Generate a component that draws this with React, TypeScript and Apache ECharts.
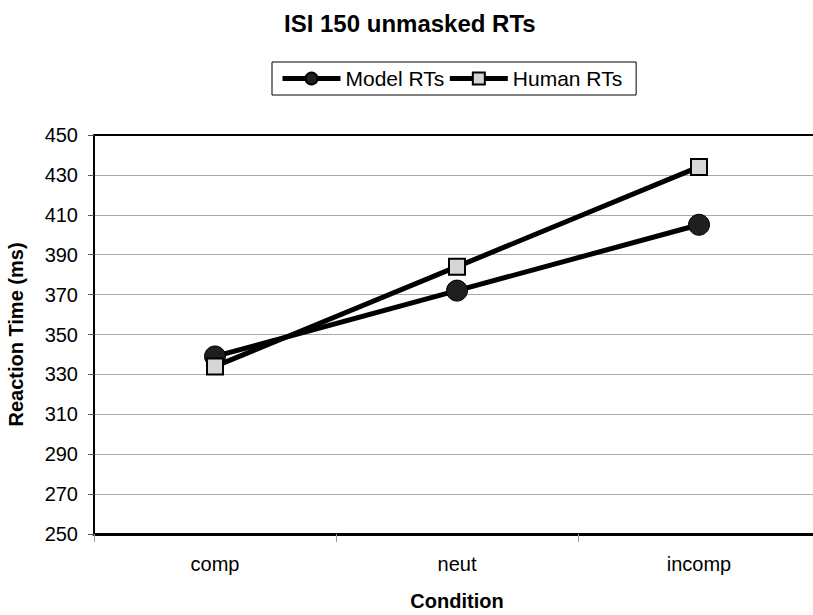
import React, { useEffect, useRef } from "react";
import * as echarts from "echarts";

const categories = ["comp", "neut", "incomp"];
const modelRTs = [339, 372, 405];
const humanRTs = [334, 384, 434];
const yMin = 250;
const yMax = 450;
const yStep = 20;

const FONT = "Liberation Sans, Arial, sans-serif";

export default function App() {
  const ref = useRef<HTMLDivElement>(null);
  useEffect(() => {
    document.body.style.margin = "0";
    const chart = echarts.init(ref.current!, null, { renderer: "svg" });
    chart.setOption({
      animation: false,
      backgroundColor: "#ffffff",
      textStyle: { fontFamily: FONT },
      title: {
        text: "ISI 150 unmasked RTs",
        left: 279,
        top: 6,
        textStyle: { fontFamily: FONT, fontSize: 24, fontWeight: "bold", color: "#000" },
      },
      legend: {
        left: 272,
        top: 62,
        orient: "horizontal",
        borderColor: "#000",
        borderWidth: 1,
        padding: [6, 14, 6, 8],
        itemGap: 3,
        itemWidth: 58,
        itemHeight: 15,
        lineStyle: { width: 5, color: "#000" },
        textStyle: { fontFamily: FONT, fontSize: 21, color: "#000" },
        data: ["Model RTs", "Human RTs"],
      },
      grid: {
        left: 94,
        top: 135,
        width: 726,
        height: 399,
        containLabel: false,
        outerBoundsMode: "none",
      },
      xAxis: [
        {
          type: "category",
          data: categories,
          boundaryGap: true,
          name: "Condition",
          nameLocation: "middle",
          nameGap: 57,
          nameTextStyle: { fontFamily: FONT, fontSize: 20, fontWeight: "bold", color: "#000" },
          axisLine: { lineStyle: { color: "#000", width: 3 } },
          axisTick: { show: true, length: 8, lineStyle: { color: "#999", width: 1 } },
          axisLabel: { fontFamily: FONT, fontSize: 20, color: "#000", margin: 20 },
        },
        {
          type: "category",
          data: categories,
          position: "top",
          axisLine: { show: true, lineStyle: { color: "#000", width: 2 } },
          axisTick: { show: false },
          axisLabel: { show: false },
        },
      ],
      yAxis: {
        type: "value",
        min: yMin,
        max: yMax,
        interval: yStep,
        name: "Reaction Time (ms)",
        nameLocation: "middle",
        nameGap: 68,
        nameTextStyle: { fontFamily: FONT, fontSize: 20, fontWeight: "bold", color: "#000" },
        axisLine: { show: true, lineStyle: { color: "#000", width: 2 } },
        axisTick: { show: true, length: 6, lineStyle: { color: "#555", width: 1 } },
        axisLabel: { fontFamily: FONT, fontSize: 20, color: "#000", margin: 16 },
        splitLine: { show: true, lineStyle: { color: "#aaa", width: 1 } },
      },
      series: [
        {
          name: "Model RTs",
          type: "line",
          data: modelRTs,
          symbol: "circle",
          symbolSize: 21,
          lineStyle: { color: "#000", width: 5 },
          itemStyle: { color: "#1f1f1f", borderColor: "#000", borderWidth: 1 },
          z: 3,
        },
        {
          name: "Human RTs",
          type: "line",
          data: humanRTs,
          symbol: "rect",
          symbolSize: 16,
          lineStyle: { color: "#000", width: 5 },
          itemStyle: { color: "#d6d6d6", borderColor: "#000", borderWidth: 2 },
          z: 4,
        },
      ],
    });
    return () => chart.dispose();
  }, []);
  return (
    <div
      ref={ref}
      style={{ position: "fixed", left: 0, top: 0, width: 813, height: 615, background: "#fff" }}
    />
  );
}
